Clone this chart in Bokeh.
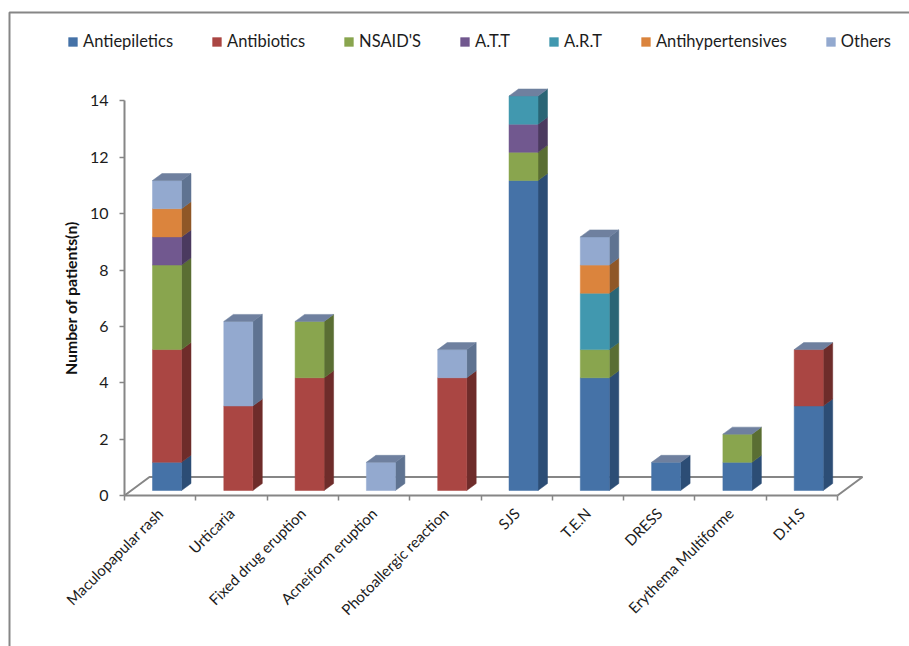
from bokeh.plotting import figure
from bokeh.embed import file_html
from bokeh.resources import INLINE
from bokeh.models import Legend, LegendItem, FixedTicker, Range1d

categories = ["Maculopapular rash", "Urticaria", "Fixed drug eruption", "Acneiform eruption",
              "Photoallergic reaction", "SJS", "T.E.N", "DRESS", "Erythema Multiforme", "D.H.S"]
antiepiletics = [1, 0, 0, 0, 0, 11, 4, 1, 1, 3]
antibiotics = [4, 3, 4, 0, 4, 0, 0, 0, 0, 2]
nsaids = [3, 0, 2, 0, 0, 1, 1, 0, 1, 0]
att = [1, 0, 0, 0, 0, 1, 0, 0, 0, 0]
art = [0, 0, 0, 0, 0, 1, 2, 0, 0, 0]
antihypertensives = [1, 0, 0, 0, 0, 0, 1, 0, 0, 0]
others = [1, 3, 0, 1, 1, 0, 1, 0, 0, 0]
y_ticks = [0, 2, 4, 6, 8, 10, 12, 14]

series = [
    ("Antiepiletics", antiepiletics, "#4572A7", "#2C4D75"),
    ("Antibiotics", antibiotics, "#AA4643", "#6E2C2A"),
    ("NSAID'S", nsaids, "#89A54E", "#5A6E33"),
    ("A.T.T", att, "#71588F", "#4B3A5F"),
    ("A.R.T", art, "#4198AF", "#2A6575"),
    ("Antihypertensives", antihypertensives, "#DB843D", "#8F5727"),
    ("Others", others, "#93A9CF", "#5F7391"),
]
TOP = "#6F809F"
AXIS = "#868686"
TEXT = "#1c1c1c"
FONT = "Lato"

# layout in pixels
W, H = 909, 646
X0, Y0 = 124, 495
PX_X, PX_Y = 71.3, 28.18
bar_off, bar_w = 28 / PX_X, 29 / PX_X
lift = 5 / PX_Y
dx, dy = 9.5 / PX_X, 7 / PX_Y
fdx, fdy = 25 / PX_X, 18.5 / PX_Y

p = figure(width=W, height=H, output_backend="svg", toolbar_location=None,
           x_range=Range1d(-X0 / PX_X, (W - X0) / PX_X), y_range=Range1d(-(H - Y0) / PX_Y, Y0 / PX_Y),
           min_border_left=0, min_border_bottom=0, min_border_top=0, min_border_right=0,
           outline_line_color=None, background_fill_color="white", border_fill_color="white")
p.grid.visible = False

# picture frame
p.line([(W + 5 - X0) / PX_X, (9 - X0) / PX_X, (9 - X0) / PX_X], [(Y0 - 12) / PX_Y, (Y0 - 12) / PX_Y, -(H + 5 - Y0) / PX_Y],
       line_color=AXIS, line_width=2)

# floor of the 3D plot
n = len(categories)
p.line([0, fdx, n + fdx, n], [0, fdy, fdy, 0], line_color=AXIS, line_width=2)

# stacked 3D columns
totals = [0] * n
items = []
for name, vals, col, side in series:
    lefts, rights, bots, tops, sx, sy = [], [], [], [], [], []
    for i, v in enumerate(vals):
        if v == 0:
            continue
        l = i + bar_off
        r = l + bar_w
        b = totals[i] + lift
        t = b + v
        lefts.append(l); rights.append(r); bots.append(b); tops.append(t)
        sx.append([r, r + dx, r + dx, r])
        sy.append([b, b + dy, t + dy, t])
    p.patches(sx, sy, fill_color=side, line_color=side, line_width=0.5)
    rend = p.quad(left=lefts, right=rights, bottom=bots, top=tops, fill_color=col,
                  line_color=col, line_width=0.5)
    items.append(LegendItem(label=name, renderers=[rend]))
    totals = [a + b for a, b in zip(totals, vals)]

tx, ty = [], []
for i, total in enumerate(totals):
    l = i + bar_off
    r = l + bar_w
    t = total + lift
    tx.append([l, l + dx, r + dx, r])
    ty.append([t, t + dy, t + dy, t])
p.patches(tx, ty, fill_color=TOP, line_color=TOP, line_width=0.5)

# axes
xa = p.xaxis[0]
xa.fixed_location = 0
xa.ticker = FixedTicker(ticks=[i + 0.5 for i in range(n)], minor_ticks=list(range(n + 1)))
xa.major_label_overrides = {i + 0.5: c for i, c in enumerate(categories)}
xa.major_label_orientation = 0.785
xa.major_label_text_font = FONT
xa.major_label_text_font_size = "15px"
xa.major_label_text_color = TEXT
xa.major_label_standoff = 9
xa.major_tick_line_color = None
xa.minor_tick_line_color = AXIS
xa.minor_tick_line_width = 1.5
xa.minor_tick_out = 5
xa.minor_tick_in = 0
xa.axis_line_color = AXIS
xa.axis_line_width = 2
xa.bounds = (0, n)

ya = p.yaxis[0]
ya.fixed_location = 0
ya.ticker = FixedTicker(ticks=y_ticks, minor_ticks=[])
ya.bounds = (0, 14)
ya.major_label_text_font = FONT
ya.major_label_text_font_size = "16px"
ya.major_label_text_color = TEXT
ya.major_label_standoff = 11
ya.major_tick_line_color = AXIS
ya.major_tick_line_width = 1.5
ya.major_tick_out = 5
ya.major_tick_in = 0
ya.axis_line_color = AXIS
ya.axis_line_width = 2
ya.axis_label = "Number of patients(n)"
ya.axis_label_text_font = FONT
ya.axis_label_text_font_style = "bold"
ya.axis_label_text_font_size = "15.8px"
ya.axis_label_text_color = "#111111"
ya.axis_label_standoff = 7

legend = Legend(items=items, orientation="horizontal", location=(67, H - 51),
                border_line_color=None, background_fill_alpha=0, padding=0, margin=0,
                glyph_width=11, glyph_height=11, label_standoff=5, spacing=38,
                label_text_font=FONT, label_text_font_size="16.5px", label_text_color=TEXT)
p.add_layout(legend, "center")

open("out.html", "w").write(file_html(p, INLINE))
